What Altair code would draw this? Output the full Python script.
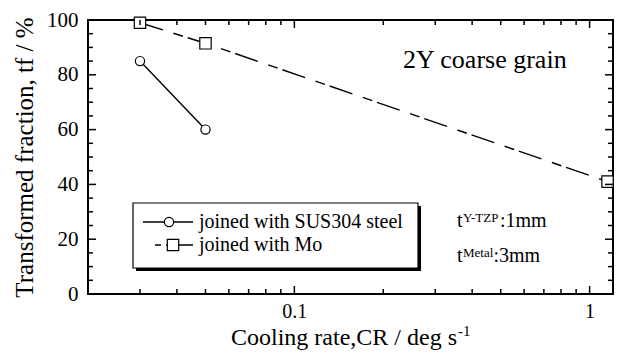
import altair as alt
import pandas as pd

# Transformed fraction of 2Y coarse grain zirconia vs. cooling rate
sus_cr = [0.03, 0.05]
sus_tf = [85, 60]
mo_cr = [0.03, 0.05, 1.15]
mo_tf = [99, 91.5, 41]

x_major = [0.1, 1]
x_minor = [0.03, 0.04, 0.05, 0.06, 0.07, 0.08, 0.09,
           0.2, 0.3, 0.4, 0.5, 0.6, 0.7, 0.8, 0.9]
y_major = [0, 20, 40, 60, 80, 100]
y_minor = [5, 10, 15, 25, 30, 35, 45, 50, 55, 65, 70, 75, 85, 90, 95]

W, H = 525, 274
FONT = "Liberation Serif"

xscale = alt.Scale(type="log", domain=[0.02, 1.2], nice=False)
yscale = alt.Scale(domain=[0, 100], nice=False, zero=False)

x_axis = alt.Axis(values=x_major, format="~g", labelFont=FONT, labelFontSize=20,
                  labelColor="black", ticks=False, tickSize=0, domain=False,
                  grid=False, labelPadding=7)
y_axis = alt.Axis(values=y_major, labelFont=FONT, labelFontSize=21,
                  labelColor="black", ticks=False, tickSize=0, domain=False,
                  grid=False, labelPadding=10,
                  titleFont=FONT, titleFontSize=25, titleFontWeight="normal",
                  titleColor="black", titleX=-64, titleY=137, titleAlign="center",
                  titleBaseline="middle")
Y_TITLE = "Transformed fraction, tf / %"

sus = pd.DataFrame({"cr": sus_cr, "tf": sus_tf})
mo = pd.DataFrame({"cr": mo_cr, "tf": mo_tf})

X = alt.X("cr:Q", scale=xscale, axis=x_axis, title=None)
Y = alt.Y("tf:Q", scale=yscale, axis=y_axis, title=Y_TITLE)

sus_line = alt.Chart(sus).mark_line(color="black", strokeWidth=1.4).encode(x=X, y=Y)
mo_line = alt.Chart(mo).mark_line(color="black", strokeWidth=1.4,
                                  strokeDash=[24, 11, 10, 5]).encode(x=X, y=Y)
sus_pts = alt.Chart(sus).mark_point(shape="circle", size=85, filled=True, fill="white",
                                    stroke="black", strokeWidth=1.2, opacity=1
                                    ).encode(x=X, y=Y)
mo_pts = alt.Chart(mo).mark_point(shape="square", size=130, filled=True, fill="white",
                                  stroke="black", strokeWidth=1.2, opacity=1
                                  ).encode(x=X, y=Y)

# inward ticks on all four sides
def xticks(vals, length):
    df = pd.DataFrame({"v": vals})
    xe = alt.X("v:Q", scale=xscale, axis=x_axis, title=None)
    bottom = alt.Chart(df).mark_rule(color="black", strokeWidth=1.5).encode(
        x=xe, y=alt.value(H), y2=alt.value(H - length))
    top = alt.Chart(df).mark_rule(color="black", strokeWidth=1.5).encode(
        x=xe, y=alt.value(0), y2=alt.value(length))
    return [bottom, top]

def yticks(vals, length):
    df = pd.DataFrame({"v": vals})
    ye = alt.Y("v:Q", scale=yscale, axis=y_axis, title=Y_TITLE)
    left = alt.Chart(df).mark_rule(color="black", strokeWidth=1.5).encode(
        y=ye, x=alt.value(0), x2=alt.value(length))
    right = alt.Chart(df).mark_rule(color="black", strokeWidth=1.5).encode(
        y=ye, x=alt.value(W), x2=alt.value(W - length))
    return [left, right]

ticks = xticks(x_major, 8) + xticks(x_minor, 5) + yticks(y_major, 8) + yticks(y_minor, 5)

one = pd.DataFrame({"k": [0]})

def text(s, x, y, size, align="left"):
    return alt.Chart(one).mark_text(text=s, font=FONT, fontSize=size, align=align,
                                    baseline="alphabetic", color="black"
                                    ).encode(x=alt.value(x), y=alt.value(y))

notes = [
    text("2Y coarse grain", 315, 48, 26),
    text("t", 369, 207, 20),
    text("Y-TZP", 375, 201.5, 13),
    text(":1mm", 412, 207, 20),
    text("t", 369, 242, 20),
    text("Metal", 375, 236.5, 13),
    text(":3mm", 405.5, 242, 20),
    text("Cooling rate,CR / deg s", 369, 325, 24, align="right"),
    text("-1", 370, 316, 15),
]

# legend box with drop shadow
shadow = alt.Chart(one).mark_rect(fill="black").encode(
    x=alt.value(48), x2=alt.value(333), y=alt.value(186), y2=alt.value(251))
box = alt.Chart(one).mark_rect(fill="white", stroke="black", strokeWidth=1.2).encode(
    x=alt.value(45), x2=alt.value(330), y=alt.value(183), y2=alt.value(248))
leg_sus_line = alt.Chart(one).mark_rule(color="black", strokeWidth=1.4).encode(
    x=alt.value(55), x2=alt.value(105), y=alt.value(202))
leg_sus_pt = alt.Chart(one).mark_point(shape="circle", size=85, filled=True, fill="white",
                                       stroke="black", strokeWidth=1.2, opacity=1).encode(
    x=alt.value(81), y=alt.value(202))
leg_mo_line = alt.Chart(one).mark_rule(color="black", strokeWidth=1.4,
                                       strokeDash=[6, 5, 40]).encode(
    x=alt.value(67), x2=alt.value(105), y=alt.value(225))
leg_mo_pt = alt.Chart(one).mark_point(shape="square", size=130, filled=True, fill="white",
                                      stroke="black", strokeWidth=1.2, opacity=1).encode(
    x=alt.value(85), y=alt.value(225))
leg_text = [
    alt.Chart(one).mark_text(text="joined with SUS304 steel", font=FONT, fontSize=20,
                             align="left", baseline="middle", color="black").encode(
        x=alt.value(111), y=alt.value(202)),
    alt.Chart(one).mark_text(text="joined with Mo", font=FONT, fontSize=20,
                             align="left", baseline="middle", color="black").encode(
        x=alt.value(111), y=alt.value(225)),
]

chart = alt.layer(
    sus_line, mo_line, sus_pts, mo_pts, *ticks, *notes,
    shadow, box, leg_sus_line, leg_sus_pt, leg_mo_line, leg_mo_pt, *leg_text
).properties(
    width=W, height=H,
    autosize=alt.AutoSizeParams(type="none"),
    padding={"left": 88, "top": 20, "right": 9, "bottom": 70},
).configure(background="white").configure_view(stroke="black", strokeWidth=2)

chart.save("out.html", embed_options={"renderer": "svg", "actions": False})
